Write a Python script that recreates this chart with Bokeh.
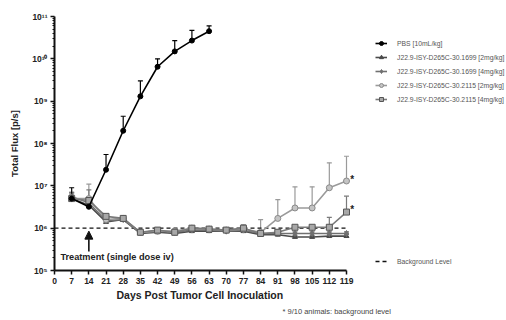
from bokeh.plotting import figure
from bokeh.models import (ColumnDataSource, FixedTicker, Legend, LegendItem, Label, Title,
                          Arrow, NormalHead, Whisker, TeeHead)
from bokeh.embed import file_html
from bokeh.resources import INLINE

# ---------------- data ----------------
days_pbs = [7, 14, 21, 28, 35, 42, 49, 56, 63]
pbs = [5.0e6, 3.2e6, 2.4e7, 2.0e8, 1.3e9, 6.5e9, 1.5e10, 2.7e10, 4.5e10]
pbs_up = [9.0e6, 4.5e6, 5.5e7, 4.4e8, 3.0e9, 1.0e10, 2.7e10, 4.7e10, 6.0e10]

days = [7, 14, 21, 28, 35, 42, 49, 56, 63, 70, 77, 84, 91, 98, 105, 112, 119]
g1699_2 = [5.0e6, 3.5e6, 1.4e6, 1.6e6, 7.5e5, 8.0e5, 7.5e5, 8.5e5, 8.5e5, 8.5e5, 8.5e5, 7.0e5, 7.0e5, 6.2e5, 6.2e5, 6.5e5, 6.5e5]
g1699_2_up = [6.0e6, 4.0e6, 1.6e6, 1.8e6, 8.2e5, 8.8e5, 8.2e5, 9.3e5, 9.3e5, 9.3e5, 9.3e5, 7.8e5, 7.8e5, 6.8e5, 6.8e5, 7.2e5, 7.2e5]
g1699_4 = [5.5e6, 4.0e6, 1.5e6, 1.6e6, 8.0e5, 8.5e5, 8.0e5, 9.0e5, 9.0e5, 8.5e5, 9.0e5, 7.5e5, 7.5e5, 7.5e5, 7.5e5, 7.5e5, 7.5e5]
g1699_4_up = [6.5e6, 5.0e6, 1.7e6, 1.8e6, 8.8e5, 9.3e5, 8.8e5, 1.0e6, 1.0e6, 9.3e5, 1.0e6, 8.2e5, 8.2e5, 8.2e5, 8.2e5, 8.2e5, 8.2e5]
g2115_2 = [5.0e6, 5.0e6, 1.6e6, 1.7e6, 8.0e5, 8.5e5, 8.5e5, 1.0e6, 9.5e5, 9.0e5, 9.5e5, 8.0e5, 1.7e6, 3.0e6, 3.0e6, 9.0e6, 1.3e7]
g2115_2_up = [7.0e6, 1.1e7, 2.0e6, 1.9e6, 9.0e5, 1.0e6, 9.5e5, 1.1e6, 1.05e6, 1.0e6, 1.1e6, 1.6e6, 4.7e6, 9.5e6, 9.5e6, 3.5e7, 5.0e7]
g2115_4 = [5.0e6, 4.5e6, 1.9e6, 1.7e6, 8.0e5, 9.0e5, 8.0e5, 1.0e6, 9.5e5, 9.0e5, 1.0e6, 7.5e5, 8.0e5, 1.05e6, 1.05e6, 1.05e6, 2.4e6]
g2115_4_up = [7.0e6, 8.0e6, 2.1e6, 1.9e6, 9.0e5, 1.0e6, 9.0e5, 1.1e6, 1.05e6, 1.0e6, 1.2e6, 8.5e5, 9.0e5, 1.15e6, 1.15e6, 1.8e6, 5.7e6]

background = 1.0e6
x_ticks = list(range(0, 120, 7))
y_ticks = [1e5, 1e6, 1e7, 1e8, 1e9, 1e10, 1e11]
y_tick_labels = ["10\u2075", "10\u2076", "10\u2077", "10\u2078", "10\u2079", "10\u00b9\u2070", "10\u00b9\u00b9"]

names = ["PBS [10mL/kg]",
         "J22.9-ISY-D265C-30.1699 [2mg/kg]",
         "J22.9-ISY-D265C-30.1699 [4mg/kg]",
         "J22.9-ISY-D265C-30.2115 [2mg/kg]",
         "J22.9-ISY-D265C-30.2115 [4mg/kg]"]

FONT = "Liberation Sans"
X_LAST = 119
X_VIEW = X_LAST * (506 - 54) / 292.0   # frame extends right so legend fits in it

p = figure(width=506, height=320, y_axis_type="log", x_range=(0, X_VIEW), y_range=(1e5, 1e11),
           output_backend="svg", toolbar_location=None,
           min_border_left=54, min_border_right=0, min_border_top=16, min_border_bottom=50)
p.outline_line_color = None
p.xgrid.visible = False
p.ygrid.visible = False
p.background_fill_color = "white"

for ax in (p.xaxis[0], p.yaxis[0]):
    ax.axis_line_width = 2
    ax.axis_line_color = "#111111"
    ax.major_tick_line_width = 1.5
    ax.major_tick_line_color = "#111111"
    ax.minor_tick_line_color = "#111111"
    ax.major_tick_in = 0
    ax.major_tick_out = 4
    ax.minor_tick_in = 0
    ax.minor_tick_out = 2
    ax.major_label_text_font = FONT
    ax.major_label_text_font_style = "bold"
    ax.major_label_text_color = "#222222"
    ax.axis_label_text_font = FONT
    ax.axis_label_text_font_style = "bold"
    ax.axis_label_text_color = "#222222"

p.xaxis.bounds = (0, X_LAST)
p.xaxis.ticker = FixedTicker(ticks=x_ticks)
p.xaxis.major_label_text_font_size = "8.5px"
p.xaxis.major_label_standoff = 3

minor_y = [m * 10 ** e for e in range(5, 11) for m in range(2, 10)]
p.yaxis.ticker = FixedTicker(ticks=y_ticks, minor_ticks=minor_y)
p.yaxis.major_label_overrides = {t: l for t, l in zip(y_ticks, y_tick_labels)}
p.yaxis.major_label_text_font_size = "8.5px"
p.yaxis.major_label_standoff = 3
p.yaxis.axis_label = "Total Flux [p/s]"
p.yaxis.axis_label_text_font_size = "9.5px"
p.yaxis.axis_label_standoff = 9

# x axis title, centred under the drawn axis (0..119), and the footnote
p.add_layout(Title(text="Days Post Tumor Cell Inoculation", align="left", offset=62,
                   text_font=FONT, text_font_style="bold", text_font_size="10.5px",
                   text_color="#222222", standoff=1), "below")
p.add_layout(Title(text="* 9/10 animals: background level", align="left", offset=228,
                   text_font=FONT, text_font_style="normal", text_font_size="7.5px",
                   text_color="#444444", standoff=7), "below")

# background level
bg_r = p.line([0, X_LAST], [background, background], line_color="#111111", line_width=1.3, line_dash="4 3")

series = [
    (days, g1699_2, g1699_2_up, "#4a4a4a", "triangle", "#4a4a4a", "#4a4a4a", 5),
    (days, g1699_4, g1699_4_up, "#707070", "diamond", "#707070", "#707070", 6),
    (days, g2115_2, g2115_2_up, "#9a9a9a", "circle", "#c4c4c4", "#8a8a8a", 6),
    (days, g2115_4, g2115_4_up, "#7a7a7a", "square", "#a8a8a8", "#555555", 6),
    (days_pbs, pbs, pbs_up, "#000000", "circle", "#000000", "#000000", 5),
]
order_names = [names[1], names[2], names[3], names[4], names[0]]

items = {}
for (xs, ys, ups, col, mk, fc, lc, sz), nm in zip(series, order_names):
    src = ColumnDataSource(dict(x=xs, y=ys, up=ups))
    p.add_layout(Whisker(source=src, base="x", lower="y", upper="up", line_color=col,
                         line_width=1.2, lower_head=None,
                         upper_head=TeeHead(size=5, line_color=col, line_width=1.2)))
    lr = p.line("x", "y", source=src, line_color=col, line_width=1.6)
    sr = p.scatter("x", "y", source=src, marker=mk, size=sz, fill_color=fc, line_color=lc, line_width=1)
    items[nm] = [lr, sr]

legend = Legend(items=[LegendItem(label=nm, renderers=items[nm]) for nm in names],
                location=(321, 166), orientation="vertical",
                label_text_font=FONT, label_text_font_size="6.8px", label_text_color="#555555",
                glyph_width=12, glyph_height=10, label_height=10, label_standoff=10,
                spacing=4, padding=0, margin=0, border_line_color=None,
                background_fill_alpha=0)
p.add_layout(legend)

legend2 = Legend(items=[LegendItem(label="Background Level", renderers=[bg_r])],
                 location=(321, 4), label_text_font=FONT, label_text_font_size="6.8px",
                 label_text_color="#555555", glyph_width=12, glyph_height=10, label_height=10,
                 label_standoff=10, padding=0, margin=0, border_line_color=None,
                 background_fill_alpha=0)
p.add_layout(legend2)

# treatment annotation
p.add_layout(Arrow(x_start=14, y_start=10 ** 5.45, x_end=14, y_end=10 ** 5.93,
                   line_color="#111111", line_width=1.6,
                   end=NormalHead(size=8, fill_color="#111111", line_color="#111111")))
p.add_layout(Label(x=2.4, y=10 ** 5.31, text="Treatment (single dose iv)", text_font=FONT,
                   text_font_style="bold", text_font_size="9.2px", text_color="#222222",
                   text_baseline="middle"))

# asterisks
for yv in (10 ** 7.16, 10 ** 6.43):
    p.add_layout(Label(x=120.5, y=yv, text="*", text_font=FONT, text_font_style="bold",
                       text_font_size="10px", text_color="#222222", text_baseline="middle"))

open("out.html", "w").write(file_html(p, INLINE))
